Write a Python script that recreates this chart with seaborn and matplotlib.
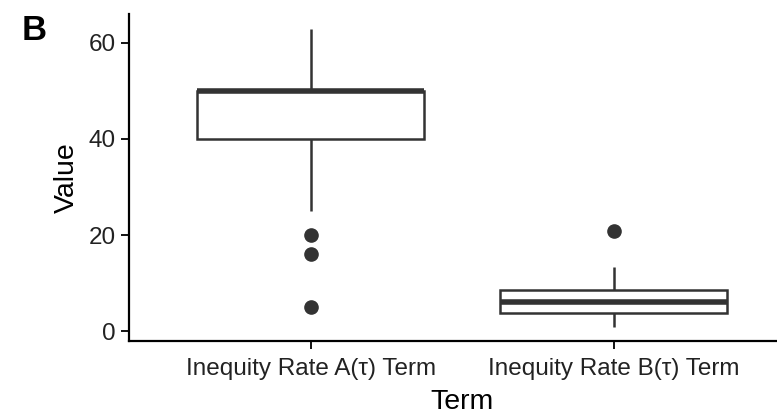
import pandas as pd
import matplotlib.pyplot as plt
import seaborn as sns

# ── Data ───────────────────────────────────────────────────────────────────────
terms = ["Inequity Rate A(\u03c4) Term", "Inequity Rate B(\u03c4) Term"]
values_a = [5, 16, 20, 25, 35, 40, 40, 42, 45, 48, 50,
            50, 50, 50, 50, 50, 50, 52, 55, 60, 63]
values_b = [0.9, 2, 3, 3.5, 3.6, 3.8, 4.5, 5, 5.5, 6, 6.1,
            6.5, 7, 7.5, 8, 8.5, 9, 10, 11, 13.4, 20.8]

df = pd.DataFrame({
    "Term": [terms[0]] * len(values_a) + [terms[1]] * len(values_b),
    "Value": values_a + values_b,
})

# ── Style ──────────────────────────────────────────────────────────────────────
sns.set_theme(style="ticks")
plt.rcParams["font.family"] = ["Liberation Sans", "DejaVu Sans"]

fig = plt.figure(figsize=(7.77, 4.17), dpi=100)
ax = fig.add_axes([0.166, 0.182, 0.858, 0.784])

line = "#333333"
sns.boxplot(data=df, x="Term", y="Value", order=terms, ax=ax,
            color="white", linecolor=line, linewidth=1.8, width=0.75,
            showcaps=False,
            medianprops=dict(color=line, linewidth=4),
            flierprops=dict(marker="o", markersize=9.5, markerfacecolor=line,
                            markeredgecolor=line))

ax.set_xlim(-0.6, 1.6)
ax.set_ylim(-2.1, 66)
ax.set_yticks([0, 20, 40, 60])

sns.despine(ax=ax)
for s in ["left", "bottom"]:
    ax.spines[s].set_color("black")
    ax.spines[s].set_linewidth(1.6)
ax.tick_params(axis="both", colors="black", width=1.3, length=6,
               labelsize=17.5, labelcolor="#222222")
ax.tick_params(axis="x", pad=6)

ax.set_xlabel("Term", fontsize=20.5, color="black", labelpad=7)
ax.set_ylabel("Value", fontsize=20.5, color="black", labelpad=6)

fig.text(0.028, 0.905, "B", fontsize=25, fontweight="bold", color="black")

plt.savefig("out.png", dpi=100)
plt.close()
